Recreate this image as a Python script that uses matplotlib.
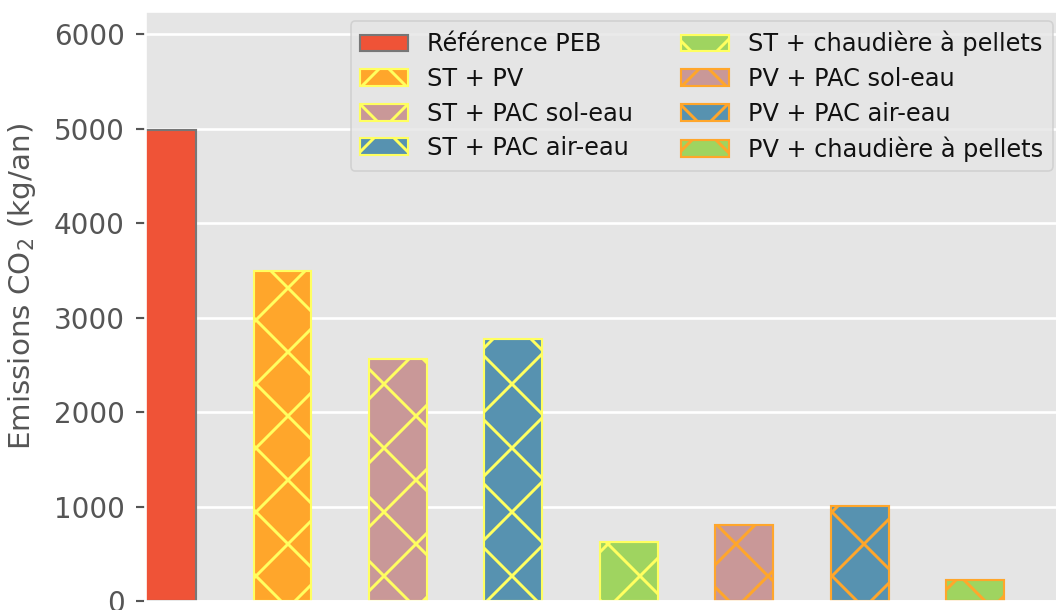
import numpy as np
import matplotlib
matplotlib.use('Agg')
import matplotlib.pyplot as plt

plt.style.use('ggplot')
plt.rcParams['hatch.linewidth'] = 1.1

# emissions CO2 par scenario (kg/an)
labels = ['Référence PEB', 'ST + PV', 'ST + PAC sol-eau', 'ST + PAC air-eau',
          'ST + chaudière à pellets', 'PV + PAC sol-eau', 'PV + PAC air-eau',
          'PV + chaudière à pellets']
emissions = [4980, 3495, 2560, 2770, 625, 800, 1010, 225]
colors = ['#EF5337', '#FFA62B', '#C99898', '#5792B0', '#9FD460', '#C99898', '#5792B0', '#9FD460']
edges = ['#777777', '#FFFF60', '#FFFF60', '#FFFF60', '#FFFF60', '#FFA62B', '#FFA62B', '#FFA62B']
hatches = ['', 'x', 'x', 'x', 'x', 'x', 'x', 'x']

# petite figure, dpi eleve (l'espacement des hachures depend du dpi)
dpi = 192
fig = plt.figure(figsize=(1056 / dpi, 610 / dpi), dpi=dpi)
ax = fig.add_axes([145 / 1056, 9 / 610, 919 / 1056, 590.5 / 610])

x = np.arange(len(emissions))
for i in range(len(emissions)):
    ax.bar(x[i], emissions[i], width=0.5, color=colors[i], edgecolor=edges[i],
           hatch=hatches[i], linewidth=0.8, label=labels[i])

ax.set_xlim(-0.19, 7.77)
ax.set_ylim(0, 6250)
ax.set_xticks([])
ax.set_yticks([0, 1000, 2000, 3000, 4000, 5000, 6000])
ax.tick_params(axis='y', labelsize=10.4, length=3.2, width=0.8, pad=4.4)
ax.grid(True, color='white', linewidth=1.0)
ax.set_ylabel('Emissions CO$_2$ (kg/an)', fontsize=11, labelpad=6)
ax.yaxis.label.set_y(0.533)

leg = ax.legend(ncol=2, loc='upper right', fontsize=9, framealpha=0.8,
                edgecolor='#CCCCCC', labelspacing=0.44, borderaxespad=0.45)
leg.get_frame().set_linewidth(0.6)
plt.setp(leg.get_texts(), color='#111111')

fig.savefig('out.png', dpi=dpi)
